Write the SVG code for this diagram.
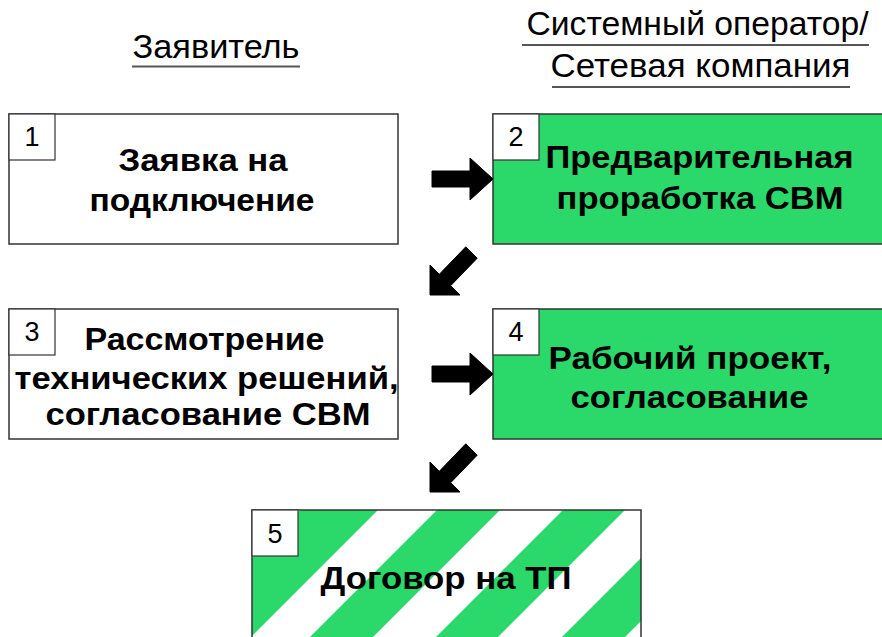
<svg xmlns="http://www.w3.org/2000/svg" width="882" height="637" viewBox="0 0 882 637">
<style>
.head{font-family:"Liberation Sans",Arial,sans-serif;font-size:34px;fill:#000;text-anchor:middle}
.ul{stroke:#555;stroke-width:2}
.box{stroke:#333;stroke-width:1.5}
.white{fill:#fff}
.green{fill:#2bd96b}
.num{font-family:"Liberation Sans",Arial,sans-serif;font-size:27px;fill:#000;text-anchor:middle}
.numbox{fill:#fff;stroke:#333;stroke-width:1.2}
.lbl{font-family:"Liberation Sans",Arial,sans-serif;font-size:32px;font-weight:bold;fill:#000;text-anchor:middle}
.arr{fill:#000;stroke:#000;stroke-width:1;stroke-linejoin:miter}
</style>
<defs>
<clipPath id="c5"><rect x="252" y="510" width="389" height="140"/></clipPath>
</defs>
<rect width="882" height="637" fill="#fff"/>
<g id="header-left">
<text class="head" x="216" y="58" textLength="167" lengthAdjust="spacingAndGlyphs">Заявитель</text>
<line class="ul" x1="132" y1="66.5" x2="300" y2="66.5"/>
</g>
<g id="header-right">
<text class="head" x="697.5" y="35" textLength="342" lengthAdjust="spacingAndGlyphs">Системный оператор/</text>
<line class="ul" x1="522" y1="45" x2="869" y2="45"/>
<text class="head" x="700.5" y="77" textLength="300" lengthAdjust="spacingAndGlyphs">Сетевая компания</text>
<line class="ul" x1="552" y1="87" x2="850" y2="87"/>
</g>
<g id="node1">
<rect class="box white" x="9" y="114" width="389" height="130"/>
<rect class="numbox" x="9" y="114" width="46" height="46"/>
<text class="num" x="32" y="146">1</text>
<text class="lbl" x="203" y="171" textLength="169" lengthAdjust="spacingAndGlyphs">Заявка на</text>
<text class="lbl" x="202" y="211" textLength="225" lengthAdjust="spacingAndGlyphs">подключение</text>
</g>
<g id="node2">
<rect class="box green" x="493" y="114" width="400" height="130" stroke="#222"/>
<rect class="numbox" x="493" y="114" width="46" height="46"/>
<text class="num" x="516" y="146">2</text>
<text class="lbl" x="699.5" y="168" textLength="308" lengthAdjust="spacingAndGlyphs">Предварительная</text>
<text class="lbl" x="700" y="209" textLength="287" lengthAdjust="spacingAndGlyphs">проработка СВМ</text>
</g>
<g id="node3">
<rect class="box white" x="9" y="309" width="389" height="130"/>
<rect class="numbox" x="9" y="309" width="46" height="46"/>
<text class="num" x="32" y="341">3</text>
<text class="lbl" x="204.5" y="350" textLength="240" lengthAdjust="spacingAndGlyphs">Рассмотрение</text>
<text class="lbl" x="206.5" y="389" textLength="384" lengthAdjust="spacingAndGlyphs">технических решений,</text>
<text class="lbl" x="208" y="425" textLength="325" lengthAdjust="spacingAndGlyphs">согласование СВМ</text>
</g>
<g id="node4">
<rect class="box green" x="493" y="309" width="400" height="130" stroke="#222"/>
<rect class="numbox" x="493" y="309" width="46" height="46"/>
<text class="num" x="516" y="341">4</text>
<text class="lbl" x="690" y="369" textLength="283" lengthAdjust="spacingAndGlyphs">Рабочий проект,</text>
<text class="lbl" x="689.5" y="408" textLength="238" lengthAdjust="spacingAndGlyphs">согласование</text>
</g>
<g id="node5">
<rect class="white" x="252" y="510" width="389" height="140"/>
<g clip-path="url(#c5)">
<polygon class="green" points="300,510 378,510 238,650 160,650"/>
<polygon class="green" points="437,510 500,510 360,650 297,650"/>
<polygon class="green" points="563,510 625,510 485,650 423,650"/>
<polygon class="green" points="689,510 752,510 612,650 549,650"/>
</g>
<rect class="box" x="252" y="510" width="389" height="140" fill="none"/>
<rect class="numbox" x="252" y="510" width="46" height="46"/>
<text class="num" x="275" y="543">5</text>
<text class="lbl" x="446" y="589" textLength="251" lengthAdjust="spacingAndGlyphs">Договор на ТП</text>
</g>
<g id="connectors">
<polygon class="arr" points="432,171 470,171 470,158 493,179 470,200 470,187 432,187"/>
<polygon class="arr" points="432,366 470,366 470,353 493,374 470,395 470,382 432,382"/>
<polygon class="arr" points="477.2,258.2 450.7,285.7 460,295 430,295 430,265 439.3,274.3 465.8,246.8"/>
<polygon class="arr" points="477.2,455.2 450.7,482.7 460,492 430,492 430,462 439.3,471.3 465.8,443.8"/>
</g>
</svg>
